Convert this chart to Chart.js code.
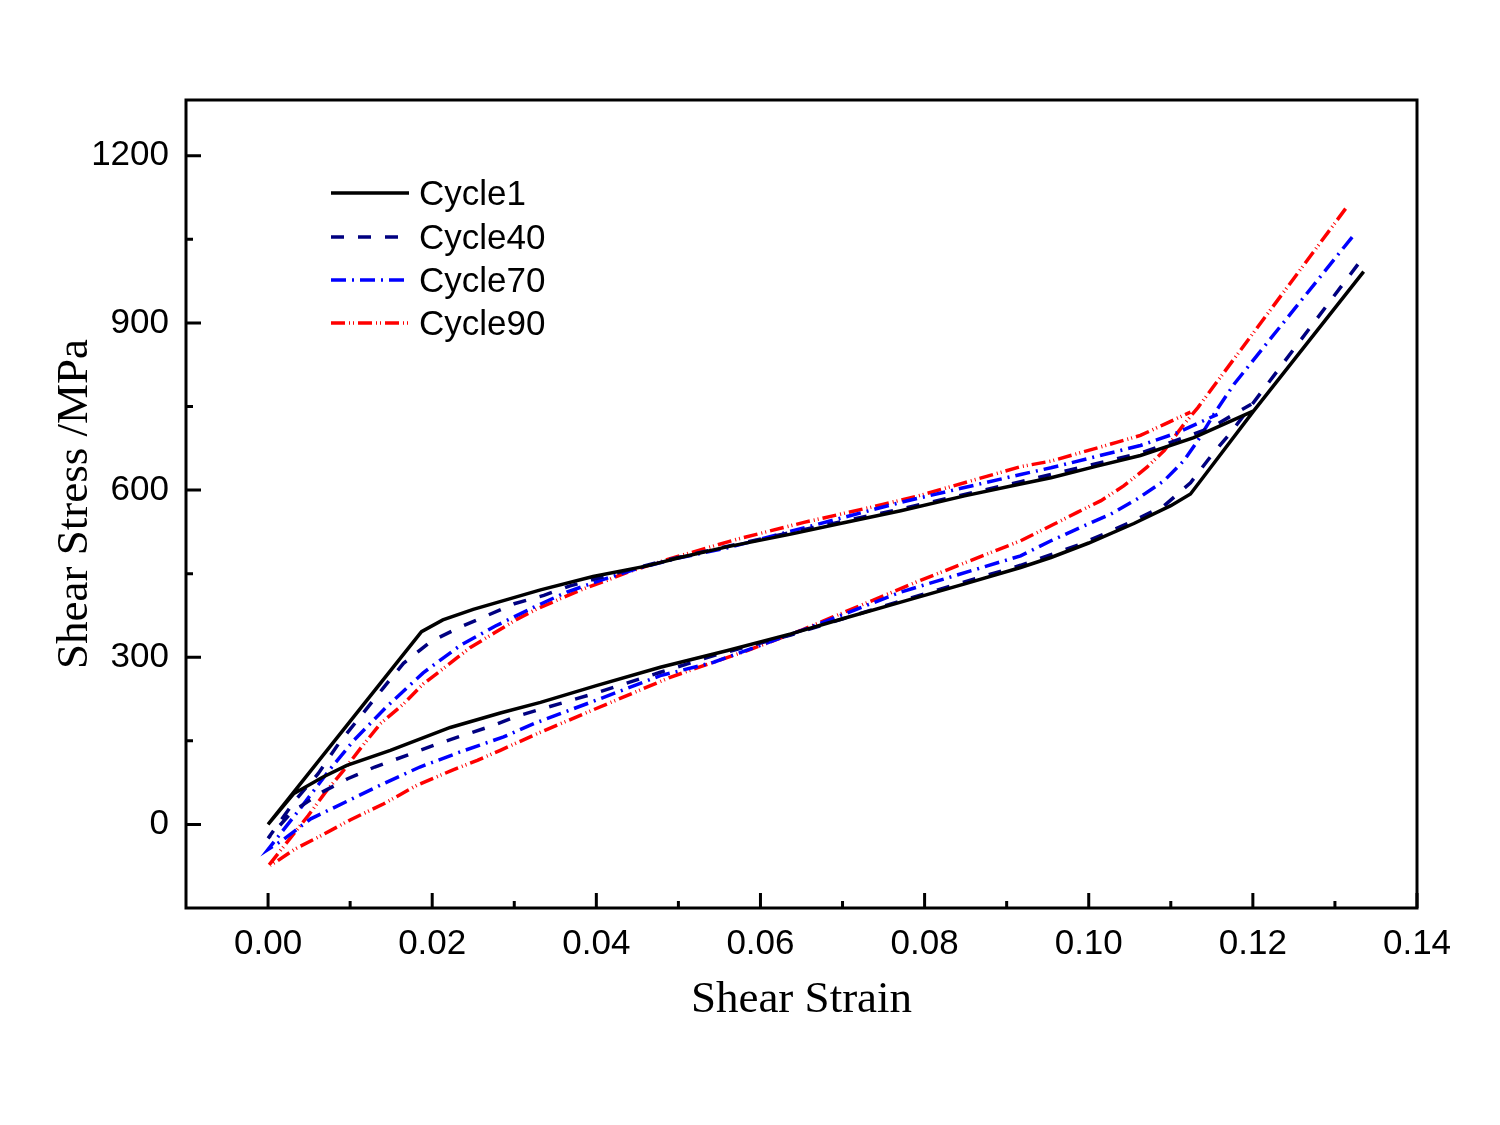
<!DOCTYPE html>
<html>
<head>
<meta charset="utf-8">
<script src="https://cdn.jsdelivr.net/npm/chart.js@4.4.1/dist/chart.umd.min.js"></script>
<style>
html, body { margin: 0; padding: 0; background: #ffffff; }
#c { display: block; }
</style>
</head>
<body>
<canvas id="c" width="1500" height="1125"></canvas>
<script>
// ---------------- data ----------------
// each loop: peak -> unloading -> lower plateau -> origin -> loading -> upper plateau
const seriesNames = ['Cycle1', 'Cycle40', 'Cycle70', 'Cycle90'];

const cycle1Strain = [0.1335, 0.1201, 0.1124, 0.1100, 0.1055, 0.1000, 0.0954, 0.0917, 0.0850, 0.0771, 0.0700, 0.0637, 0.0560, 0.0478, 0.0400, 0.0332, 0.0283, 0.0222, 0.0149, 0.0096, 0.0067, 0.0031, 0,
  0.0187, 0.0213, 0.0250, 0.0290, 0.0332, 0.0396, 0.0462, 0.0502, 0.0559, 0.0637, 0.0700, 0.0771, 0.0850, 0.0917, 0.0954, 0.1010, 0.1063, 0.1128, 0.1201];
const cycle1Stress = [992, 742, 593, 572, 540, 505, 479, 461, 432, 399, 369, 342, 312, 282, 249, 219, 200, 174, 133, 106, 85, 55, 0,
  346, 367, 386, 403, 421, 445, 464, 479, 498, 521, 541, 563, 590, 611, 622, 643, 662, 694, 742];

const cycle40Strain = [0.1328, 0.1173, 0.1151, 0.1124, 0.1092, 0.1055, 0.1023, 0.0990, 0.0917, 0.0771, 0.0637, 0.0576, 0.0543, 0.0478, 0.0400, 0.0305, 0.0271, 0.0238, 0.0202, 0.0169, 0.0130, 0.0097, 0.0066, 0.0029, 0,
  0.0033, 0.0061, 0.0086, 0.0141, 0.0165, 0.0198, 0.0234, 0.0267, 0.0300, 0.0336, 0.0368, 0.0405, 0.0482, 0.0559, 0.0637, 0.0771, 0.0917, 0.1063, 0.1149, 0.1198];
const cycle40Stress = [1005, 703, 665, 613, 572, 545, 524, 503, 465, 401, 340, 316, 303, 273, 236, 195, 176, 160, 142, 124, 103, 82, 58, 22, -25,
  43, 91, 145, 246, 289, 328, 354, 375, 396, 411, 428, 443, 473, 499, 524, 566, 615, 666, 712, 754];

const cycle70Strain = [0.1321, 0.1177, 0.1153, 0.1133, 0.1116, 0.1092, 0.1059, 0.1027, 0.0990, 0.0954, 0.0917, 0.0771, 0.0661, 0.0543, 0.0478, 0.0400, 0.0324, 0.0287, 0.0234, 0.0185, 0.0139, 0.0097, 0.0052, 0.0017, 0,
  0.0041, 0.0076, 0.0104, 0.0145, 0.0189, 0.0234, 0.0277, 0.0324, 0.0364, 0.0405, 0.0450, 0.0500, 0.0559, 0.0637, 0.0771, 0.0917, 0.0954, 0.1063, 0.1108, 0.1157];
const cycle70Stress = [1054, 790, 737, 689, 653, 617, 584, 557, 533, 509, 482, 417, 354, 291, 267, 223, 181, 157, 130, 103, 72, 42, 10, -29, -45,
  32, 100, 150, 212, 272, 321, 356, 390, 417, 438, 459, 478, 496, 526, 578, 628, 640, 680, 703, 736];

const cycle90Strain = [0.1313, 0.1133, 0.1116, 0.1092, 0.1071, 0.1043, 0.1015, 0.0986, 0.0958, 0.0917, 0.0795, 0.0722, 0.0649, 0.0584, 0.0519, 0.0490, 0.0400, 0.0328, 0.0283, 0.0255, 0.0224, 0.0181, 0.0141, 0.0100, 0.0061, 0.0033, 0.0009, 0,
  0.0049, 0.0070, 0.0092, 0.0114, 0.0137, 0.0165, 0.0189, 0.0220, 0.0246, 0.0275, 0.0303, 0.0328, 0.0356, 0.0385, 0.0413, 0.0437, 0.0490, 0.0572, 0.0653, 0.0734, 0.0791, 0.0917, 0.0954, 0.1035, 0.1063, 0.1092, 0.1124];
const cycle90Stress = [1105, 748, 718, 671, 641, 608, 581, 560, 539, 509, 438, 393, 348, 312, 279, 264, 208, 163, 133, 115, 97, 70, 37, 8, -23, -44, -68, -75,
  16, 58, 97, 139, 181, 216, 252, 287, 317, 343, 368, 387, 405, 423, 438, 452, 477, 512, 542, 569, 589, 642, 652, 686, 698, 718, 740];

const xTickValues = [0, 0.02, 0.04, 0.06, 0.08, 0.10, 0.12, 0.14];
const xMinorTicks = [0.01, 0.03, 0.05, 0.07, 0.09, 0.11, 0.13];
const yTickValues = [0, 300, 600, 900, 1200];
const yMinorTicks = [150, 450, 750, 1050];

// ---------------- chart ----------------
function pts(xs, ys) { return xs.map((v, i) => ({ x: v, y: ys[i] })); }

const styles = [
  { color: '#000000', dash: [] },
  { color: '#000080', dash: [13, 14] },
  { color: '#0000FF', dash: [15, 6, 2, 6] },
  { color: '#FF0000', dash: [14, 4, 1, 3, 1, 4] }
];
const seriesData = [
  pts(cycle1Strain, cycle1Stress),
  pts(cycle40Strain, cycle40Stress),
  pts(cycle70Strain, cycle70Stress),
  pts(cycle90Strain, cycle90Stress)
];

const frameAndLegend = {
  id: 'frameAndLegend',
  afterDatasetsDraw(chart) {
    const { ctx, chartArea: a, scales: { x, y } } = chart;
    ctx.save();
    ctx.strokeStyle = '#000';
    ctx.lineWidth = 3;
    ctx.setLineDash([]);
    ctx.strokeRect(a.left, a.top, a.right - a.left, a.bottom - a.top);
    ctx.beginPath();
    xTickValues.forEach(v => { const p = x.getPixelForValue(v); ctx.moveTo(p, a.bottom); ctx.lineTo(p, a.bottom - 15); });
    xMinorTicks.forEach(v => { const p = x.getPixelForValue(v); ctx.moveTo(p, a.bottom); ctx.lineTo(p, a.bottom - 7); });
    yTickValues.forEach(v => { const p = y.getPixelForValue(v); ctx.moveTo(a.left, p); ctx.lineTo(a.left + 15, p); });
    yMinorTicks.forEach(v => { const p = y.getPixelForValue(v); ctx.moveTo(a.left, p); ctx.lineTo(a.left + 7, p); });
    ctx.stroke();

    // legend
    const rowsY = [193, 237, 280, 323];
    ctx.font = "35px 'Liberation Sans', Arial, sans-serif";
    ctx.textBaseline = 'middle';
    ctx.textAlign = 'left';
    chart.data.datasets.forEach((ds, i) => {
      ctx.beginPath();
      ctx.strokeStyle = ds.borderColor;
      ctx.lineWidth = 3.5;
      ctx.setLineDash(ds.borderDash || []);
      ctx.moveTo(331, rowsY[i]);
      ctx.lineTo(409, rowsY[i]);
      ctx.stroke();
      ctx.setLineDash([]);
      ctx.fillStyle = '#000';
      ctx.fillText(ds.label, 419, rowsY[i] + 2);
    });
    ctx.restore();
  }
};

new Chart(document.getElementById('c'), {
  type: 'scatter',
  data: {
    datasets: seriesNames.map((n, i) => ({
      label: n,
      data: seriesData[i],
      showLine: true,
      borderColor: styles[i].color,
      backgroundColor: styles[i].color,
      borderDash: styles[i].dash,
      borderWidth: 3.5,
      pointRadius: 0,
      tension: 0,
      fill: false
    }))
  },
  options: {
    responsive: false,
    animation: false,
    layout: { padding: { top: 100, right: 83, left: 0, bottom: 0 } },
    plugins: { legend: { display: false }, tooltip: { enabled: false } },
    scales: {
      x: {
        type: 'linear', min: -0.01, max: 0.14,
        grid: { display: false, drawTicks: false },
        border: { display: false },
        afterBuildTicks: s => { s.ticks = xTickValues.map(v => ({ value: v })); },
        afterFit: s => { s.height = 217; },
        ticks: {
          padding: 15, color: '#000', maxRotation: 0, autoSkip: false,
          font: { family: "'Liberation Sans', Arial, sans-serif", size: 35 },
          callback: v => Number(v).toFixed(2)
        },
        title: {
          display: true, text: 'Shear Strain', color: '#000',
          font: { family: "'Liberation Serif', 'Times New Roman', serif", size: 45 },
          padding: { top: 0, bottom: 98 }
        }
      },
      y: {
        type: 'linear', min: -150, max: 1300,
        grid: { display: false, drawTicks: false },
        border: { display: false },
        afterBuildTicks: s => { s.ticks = yTickValues.map(v => ({ value: v })); },
        afterFit: s => { s.width = 186; },
        ticks: {
          padding: 17, color: '#000', autoSkip: false,
          font: { family: "'Liberation Sans', Arial, sans-serif", size: 35 },
          callback: v => String(v)
        },
        title: {
          display: true, text: 'Shear Stress /MPa', color: '#000',
          font: { family: "'Liberation Serif', 'Times New Roman', serif", size: 45 },
          padding: { top: 48, bottom: 0 }
        }
      }
    }
  },
  plugins: [frameAndLegend]
});
</script>
</body>
</html>
